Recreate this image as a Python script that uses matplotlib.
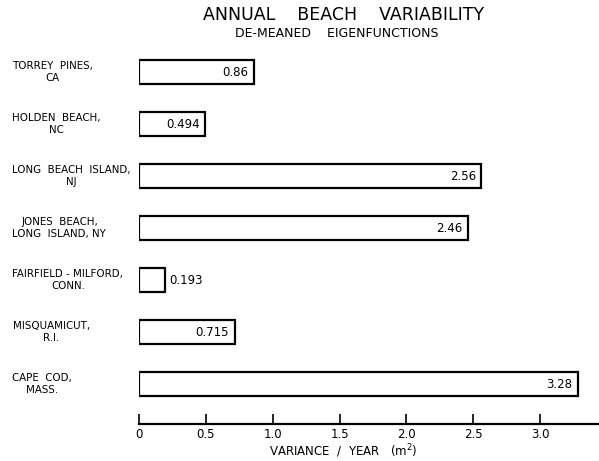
import matplotlib.pyplot as plt

# 数据
sites = ["TORREY  PINES,\nCA", "HOLDEN  BEACH,\nNC", "LONG  BEACH  ISLAND,\nNJ",
         "JONES  BEACH,\nLONG  ISLAND, NY", "FAIRFIELD - MILFORD,\nCONN.",
         "MISQUAMICUT,\nR.I.", "CAPE  COD,\nMASS."]
variance = [0.86, 0.494, 2.56, 2.46, 0.193, 0.715, 3.28]
value_labels = ["0.86", "0.494", "2.56", "2.46", "0.193", "0.715", "3.28"]
xticks = [0, 0.5, 1.0, 1.5, 2.0, 2.5, 3.0]
xtick_labels = ["0", "0.5", "1.0", "1.5", "2.0", "2.5", "3.0"]

plt.rcParams['font.family'] = ['DejaVu Sans']

fig = plt.figure(figsize=(5.99, 4.61), dpi=100)
ax = fig.add_axes([0.232, 0.080, 0.768, 0.822])

pos = list(range(len(sites)))
ax.barh(pos, variance, height=0.47, left=0, color='white', edgecolor='black', linewidth=1.6)

# 数值标签
for y, v, lab in zip(pos, variance, value_labels):
    if v < 0.3:
        ax.annotate(lab, (v, y), xytext=(3, 0), textcoords='offset points',
                    ha='left', va='center', fontsize=8.5)
    else:
        ax.annotate(lab, (v, y), xytext=(-4, 0), textcoords='offset points',
                    ha='right', va='center', fontsize=8.5)

# 站点名称
for y, name in zip(pos, sites):
    ax.annotate(name, (0, y), xycoords=('figure fraction', 'data'),
                xytext=(9, 0), textcoords='offset points',
                ha='left', va='center', multialignment='center', fontsize=7.4,
                linespacing=1.2)

ax.set_xlim(0, 3.44)
ax.set_ylim(6.77, -0.52)
ax.set_yticks([])
ax.set_xticks(xticks)
ax.set_xticklabels(xtick_labels, fontsize=8.5)
ax.tick_params(axis='x', direction='in', length=7, width=1.2, pad=3)
for s in ['left', 'top', 'right']:
    ax.spines[s].set_visible(False)
ax.spines['bottom'].set_linewidth(1.6)

# 坐标轴标题
fig.text(0.573, 0.022, "VARIANCE  /  YEAR   (m$^2$)", ha='center', va='center', fontsize=8.5)

fig.text(0.573, 0.967, "ANNUAL    BEACH    VARIABILITY", ha='center', va='center', fontsize=12.5)
fig.text(0.563, 0.928, "DE-MEANED    EIGENFUNCTIONS", ha='center', va='center', fontsize=9)

fig.savefig("out.png", dpi=100)
